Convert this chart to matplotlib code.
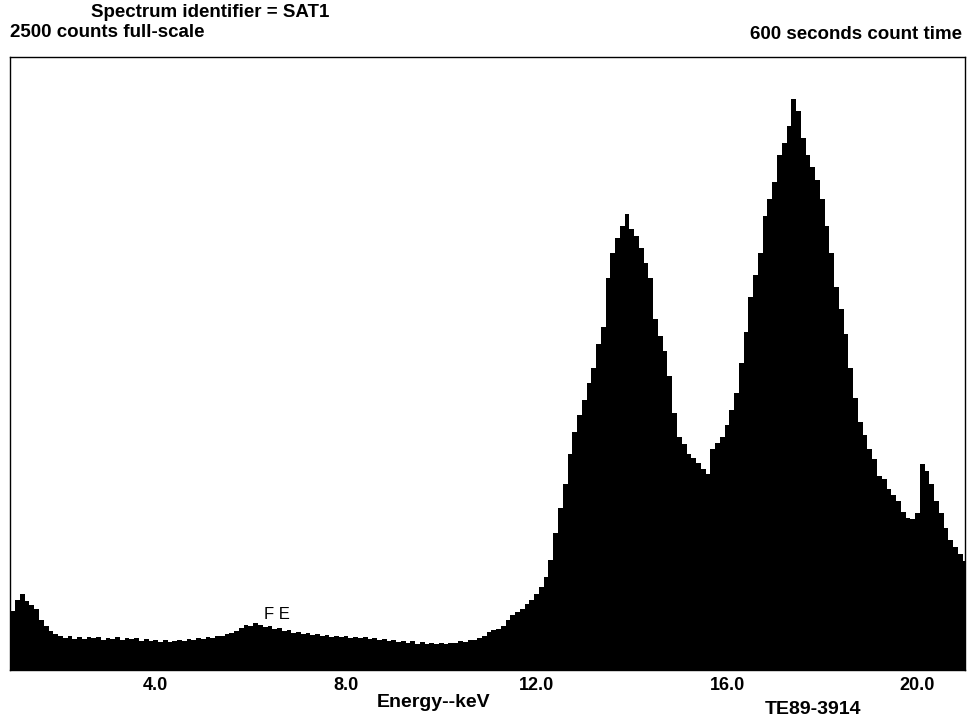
"""
X-ray energy spectrum SAT1 drawn as a filled black histogram.
"""
import matplotlib
matplotlib.use("Agg")
import matplotlib.pyplot as plt
import numpy as np

# ------------------------------------------------------------------
# Data: counts per 0.1 keV
# ------------------------------------------------------------------
E_START = 0.9
E_STEP = 0.1
COUNTS = [
    60, 240, 285, 310, 280, 265, 250, 205, 180, 160,        # 0.9 - 1.8
    148, 140, 132, 138, 128, 135, 126, 133, 129, 136,       # 1.9 - 2.8
    124, 131, 127, 134, 122, 130, 125, 129, 120, 126,       # 2.9 - 3.8
    118, 124, 116, 121, 114, 119, 123, 117, 125, 121,       # 3.9 - 4.8
    130, 126, 135, 131, 140, 137, 146, 150, 158, 170,       # 4.9 - 5.8
    185, 178, 192, 183, 175, 180, 168, 172, 160, 164,       # 5.9 - 6.8
    152, 156, 145, 150, 141, 147, 138, 144, 136, 140,       # 6.9 - 7.8
    133, 138, 131, 136, 129, 133, 125, 130, 122, 127,       # 7.9 - 8.8
    119, 124, 115, 120, 112, 117, 108, 114, 106, 111,       # 8.9 - 9.8
    104, 109, 106, 112, 110, 118, 116, 124, 122, 132,       # 9.9 - 10.8
    140, 155, 162, 168, 180, 205, 225, 235, 250, 270,       # 10.9 - 11.8
    285, 310, 340, 380, 450, 560, 660, 760, 880, 970,       # 11.9 - 12.8
    1040, 1100, 1170, 1230, 1330, 1400, 1600, 1700, 1760, 1810,  # 12.9 - 13.8
    1860, 1800, 1770, 1720, 1660, 1600, 1430, 1360, 1300, 1200,  # 13.9 - 14.8
    1050, 950, 920, 880, 865, 845, 820, 800, 900, 925,      # 14.9 - 15.8
    950, 1000, 1060, 1130, 1250, 1380, 1520, 1610, 1700, 1850,   # 15.9 - 16.8
    1920, 1990, 2100, 2150, 2220, 2330, 2280, 2170, 2100, 2050,  # 16.9 - 17.8
    2000, 1920, 1810, 1700, 1560, 1470, 1370, 1230, 1110, 1010,  # 17.9 - 18.8
    960, 900, 860, 790, 780, 740, 715, 690, 645, 620,       # 18.9 - 19.8
    615, 640, 840, 810, 760, 690, 640, 580, 530, 500,       # 19.9 - 20.8
    475, 445,                                               # 20.9 - 21.0
]
TICKS = [4.0, 8.0, 12.0, 16.0, 20.0]
FULL_SCALE = 2500
X_RANGE = (0.94, 21.0)

# ------------------------------------------------------------------
# Plot
# ------------------------------------------------------------------
plt.rcParams["font.family"] = ["Liberation Sans", "DejaVu Sans"]

counts = np.array(COUNTS, dtype=float)
edges = E_START - E_STEP / 2 + E_STEP * np.arange(len(counts) + 1)

fig = plt.figure(figsize=(9.67, 7.23), dpi=100)
ax = fig.add_axes([0.0103, 0.0733, 0.9877, 0.848])

ax.stairs(counts, edges, fill=True, color="black", linewidth=0)
ax.set_xlim(*X_RANGE)
ax.set_ylim(0, FULL_SCALE)

ax.set_xticks(TICKS)
ax.set_xticklabels([f"{t:.1f}" for t in TICKS], fontweight="bold", fontsize=13)
ax.tick_params(axis="x", direction="in", length=3, pad=5)
ax.set_yticks([])
for s in ax.spines.values():
    s.set_linewidth(1.0)

ax.text(6.28, 225, "F E", fontsize=12, ha="left", va="center")

fig.text(0.217, 0.983, "Spectrum identifier = SAT1", fontsize=13.5,
         fontweight="bold", ha="center", va="center")
fig.text(0.0103, 0.955, "2500 counts full-scale", fontsize=13.5,
         fontweight="bold", ha="left", va="center")
fig.text(0.995, 0.952, "600 seconds count time", fontsize=13.5,
         fontweight="bold", ha="right", va="center")
fig.text(0.448, 0.028, "Energy--keV", fontsize=14,
         fontweight="bold", ha="center", va="center")
fig.text(0.841, 0.018, "TE89-3914", fontsize=14,
         fontweight="bold", ha="center", va="center")

fig.savefig("out.png", dpi=100)
